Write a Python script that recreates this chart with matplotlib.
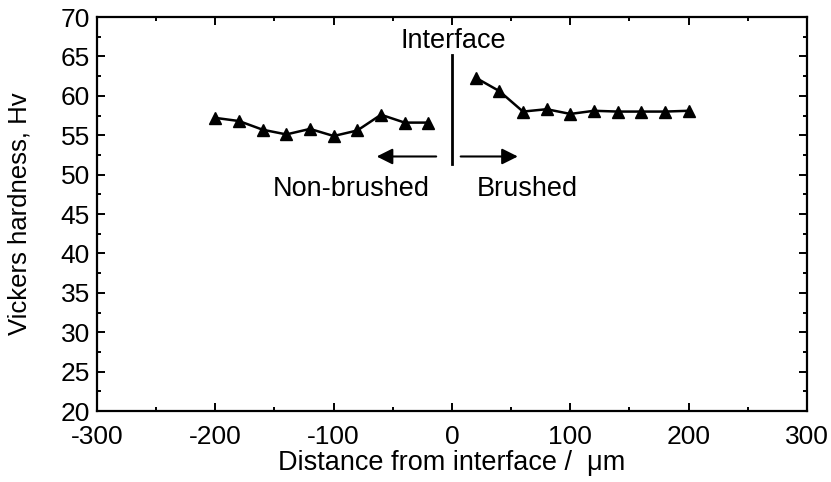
import matplotlib.pyplot as plt
from matplotlib.ticker import MultipleLocator

plt.rcParams['font.family'] = ['Liberation Sans', 'DejaVu Sans']
plt.rcParams['axes.unicode_minus'] = False

# hardness profile across the interface
x_non_brushed = [-200, -180, -160, -140, -120, -100, -80, -60, -40, -20]
hv_non_brushed = [57.2, 56.8, 55.7, 55.1, 55.8, 54.9, 55.6, 57.6, 56.6, 56.6]
x_brushed = [20, 40, 60, 80, 100, 120, 140, 160, 180, 200]
hv_brushed = [62.3, 60.6, 58.0, 58.3, 57.7, 58.1, 58.0, 58.0, 58.0, 58.1]

fig = plt.figure(figsize=(8.31, 4.82), dpi=100)
ax = fig.add_axes([0.1167, 0.1473, 0.8544, 0.8174])

for xs, ys in [(x_non_brushed, hv_non_brushed), (x_brushed, hv_brushed)]:
    ax.plot(xs, ys, color='black', lw=1.8, marker='^', markersize=9)

# interface marker and direction arrows
ax.plot([0, 0], [51.4, 65.2], color='black', lw=2)
ax.annotate('', xy=(-66, 52.3), xytext=(-11, 52.3),
            arrowprops=dict(arrowstyle='-|>', color='black', lw=1.5,
                            mutation_scale=24))
ax.annotate('', xy=(58, 52.3), xytext=(5, 52.3),
            arrowprops=dict(arrowstyle='-|>', color='black', lw=1.5,
                            mutation_scale=24))
ax.text(1, 66.9, 'Interface', ha='center', va='center', fontsize=19.5)
ax.text(-85, 48.2, 'Non-brushed', ha='center', va='center', fontsize=19.5)
ax.text(64, 48.2, 'Brushed', ha='center', va='center', fontsize=19.5)

ax.set_xlim(-300, 300)
ax.set_ylim(20, 70)
ax.xaxis.set_major_locator(MultipleLocator(100))
ax.xaxis.set_minor_locator(MultipleLocator(50))
ax.yaxis.set_major_locator(MultipleLocator(5))
ax.yaxis.set_minor_locator(MultipleLocator(2.5))
ax.tick_params(which='both', direction='in', top=True, right=True,
               labelsize=19, width=1.4)
ax.tick_params(axis='x', pad=10)
ax.tick_params(axis='y', pad=5)
ax.tick_params(which='major', length=6)
ax.tick_params(which='minor', length=3)
for s in ax.spines.values():
    s.set_linewidth(1.6)

ax.set_xlabel('Distance from interface /  μm', fontsize=19.5)
ax.set_ylabel('Vickers hardness, Hv', fontsize=18.5)
ax.xaxis.set_label_coords(0.5, -0.098)
ax.yaxis.set_label_coords(-0.092, 0.5)

fig.savefig('out.png', dpi=100)
